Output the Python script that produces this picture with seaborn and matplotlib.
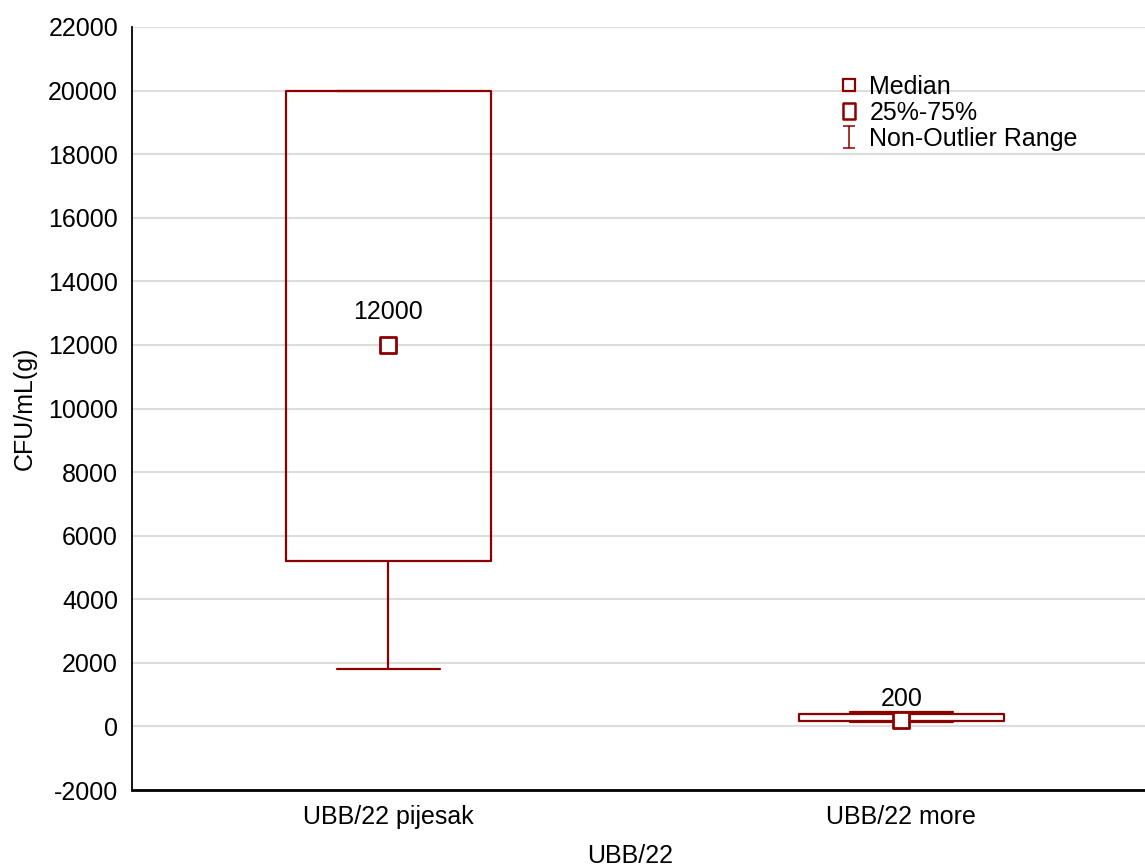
import numpy as np
import pandas as pd
import seaborn as sns
import matplotlib.pyplot as plt
from matplotlib.lines import Line2D
from matplotlib.path import Path

# ----------------------------------------------------------
# Data
# ----------------------------------------------------------
groups = ["UBB/22 pijesak", "UBB/22 more"]
range_min = [1800, 150]
q25 = [5200, 180]
medians = [12000, 200]
q75 = [20000, 400]
range_max = [20000, 450]

label_offsets = [18.5, 10]   # points above median marker

RED = "#8b0000"
FS = 18

# five numbers per group -> seaborn computes the same box stats back
rows = []
for i, g in enumerate(groups):
    for v in [range_min[i], q25[i], medians[i], q75[i], range_max[i]]:
        rows.append({"group": g, "cfu": v})
df = pd.DataFrame(rows)

sns.set_style("white")
plt.rcParams["font.family"] = ["Liberation Sans", "DejaVu Sans"]
plt.rcParams["font.size"] = FS
plt.rcParams["text.color"] = "black"
plt.rcParams["axes.labelcolor"] = "black"
plt.rcParams["axes.unicode_minus"] = False

fig = plt.figure(figsize=(11.45, 8.68), dpi=100)
ax = fig.add_axes([132 / 1145, 1 - 790 / 868, 1 - 132 / 1145, (790 - 27) / 868])

sns.boxplot(data=df, x="group", y="cfu", ax=ax, fill=False, color=RED,
            width=0.4, whis=(0, 100), linewidth=1.6,
            medianprops={"visible": False})

pos = np.arange(len(groups))
sns.scatterplot(x=pos, y=medians, ax=ax, marker="s", s=140, color="white",
                edgecolor=RED, linewidth=2, zorder=5, legend=False)

for p, m, off in zip(pos, medians, label_offsets):
    ax.annotate(str(m), (p, m), xytext=(0, off), textcoords="offset points",
                ha="center", va="baseline", fontsize=FS, color="black")

ax.set_xlim(-0.5, 1.475)
ax.set_ylim(-2000, 22000)
ax.set_yticks(np.arange(-2000, 22001, 2000))
ax.set_xticks(pos)
ax.set_xticklabels(groups)
ax.yaxis.grid(True, color="#dddddd", linewidth=1.5)
ax.set_axisbelow(True)
ax.tick_params(direction="in", length=4, width=1.2, colors="black", labelsize=FS)
ax.tick_params(axis="y", pad=10)
ax.tick_params(axis="x", pad=11)

for s in ["top", "right"]:
    ax.spines[s].set_visible(False)
ax.spines["left"].set_color("black")
ax.spines["left"].set_linewidth(1.3)
ax.spines["bottom"].set_color("black")
ax.spines["bottom"].set_linewidth(2)

ax.set_xlabel("UBB/22", fontsize=FS)
ax.set_ylabel("CFU/mL(g)", fontsize=FS, labelpad=8.5)
ax.xaxis.set_label_coords((630 - 132) / 1013, -(856 - 790) / 763, transform=None)
ax.xaxis.label.set_va("center")

# legend handles
ibar = Path([(-0.5, -1), (0.5, -1), (0, -1), (0, 1), (-0.5, 1), (0.5, 1)],
            [Path.MOVETO, Path.LINETO, Path.MOVETO, Path.LINETO, Path.MOVETO, Path.LINETO])
rect = Path([(-0.8, -1), (0.8, -1), (0.8, 1), (-0.8, 1), (-0.8, -1)],
            [Path.MOVETO, Path.LINETO, Path.LINETO, Path.LINETO, Path.CLOSEPOLY])
handles = [
    Line2D([], [], linestyle="none", marker="s", markersize=8.5, markerfacecolor="white",
           markeredgecolor=RED, markeredgewidth=1.6),
    Line2D([], [], linestyle="none", marker=rect, markersize=11, markerfacecolor="white",
           markeredgecolor=RED, markeredgewidth=1.8),
    Line2D([], [], linestyle="none", marker=ibar, markersize=16, markerfacecolor="none",
           markeredgecolor=RED, markeredgewidth=1.1),
]
fig.legend(handles, ["Median", "25%-75%", "Non-Outlier Range"], loc="upper left",
           bbox_to_anchor=(837 / 1145, 1 - 75 / 868), frameon=False, fontsize=FS,
           borderpad=0, borderaxespad=0, handlelength=1.0, handletextpad=0.3,
           labelspacing=0.08)

fig.savefig("out.png", dpi=100)
